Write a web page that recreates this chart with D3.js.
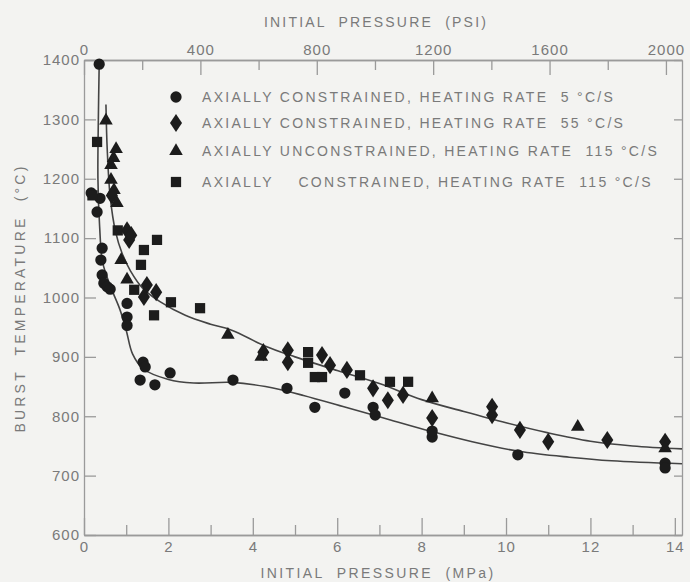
<!DOCTYPE html>
<html>
<head>
<meta charset="utf-8">
<script src="https://cdn.jsdelivr.net/npm/d3@7"></script>
<style>
    body { margin: 0; background: #f3f3f1; }
    svg { display: block; }
    text { font-family: "Liberation Sans", "DejaVu Sans", sans-serif; fill: #7a7a7a; white-space: pre; }
</style>
</head>
<body>
<div id="chart"></div>
<script>
// Axis ticks
var mpaMajor = [0, 2, 4, 6, 8, 10, 12, 14];
var mpaMinor = [1, 3, 5, 7, 9, 11, 13];
var psiMajor = [0, 400, 800, 1200, 1600, 2000];
var psiMinor = [200, 600, 1000, 1400, 1800];
var tempTicks = [600, 700, 800, 900, 1000, 1100, 1200, 1300, 1400];

// Series: [initial pressure (MPa), burst temperature (C)]
var constrained5 = [
    [0.36, 1393], [0.17, 1176], [0.38, 1167], [0.31, 1144], [0.43, 1083], [0.40, 1063],
    [0.43, 1038], [0.47, 1024], [0.55, 1018], [0.62, 1014], [1.02, 990], [1.02, 967],
    [1.02, 953], [1.40, 891], [1.45, 883], [2.04, 873], [1.33, 861], [1.68, 853],
    [3.53, 861], [4.81, 847], [5.47, 815], [6.18, 839], [6.85, 815], [6.90, 802],
    [8.25, 765], [8.25, 775], [10.28, 735], [13.77, 721], [13.77, 713]
];
var constrained55 = [
    [0.66, 1172], [1.02, 1113], [1.07, 1097], [1.12, 1105], [1.49, 1021], [1.42, 1001],
    [1.71, 1009], [4.25, 908], [4.83, 911], [4.83, 891], [5.64, 903], [5.83, 886],
    [6.23, 878], [6.85, 847], [7.20, 827], [7.56, 836], [8.25, 797], [9.67, 816],
    [9.67, 802], [10.33, 777], [11.00, 757], [12.40, 760], [13.77, 757]
];
var unconstrained115 = [
    [0.52, 1298], [0.76, 1250], [0.70, 1235], [0.64, 1223], [0.64, 1198], [0.71, 1181],
    [0.78, 1159], [0.88, 1063], [1.02, 1030], [3.41, 937], [4.20, 900], [8.25, 830],
    [11.70, 782], [13.77, 746]
];
var constrained115 = [
    [0.31, 1262], [0.20, 1172], [0.80, 1113], [1.73, 1097], [1.42, 1080], [1.35, 1055],
    [1.19, 1013], [2.06, 992], [2.75, 982], [1.66, 970], [5.31, 908], [5.31, 890],
    [5.64, 866], [5.47, 866], [6.54, 869], [7.25, 858], [7.68, 858]
];

// Fitted curves drawn through the data
var lowerCurve = [
    [0.36, 1393], [0.34, 1300], [0.33, 1200], [0.37, 1120], [0.44, 1060], [0.62, 1020],
    [0.85, 980], [1.00, 945], [1.15, 905], [1.40, 880], [2.00, 862], [2.60, 856],
    [3.50, 857], [4.30, 850], [5.20, 835], [6.20, 815], [7.20, 795], [8.20, 775],
    [9.20, 757], [10.30, 741], [11.50, 731], [12.50, 725], [14.17, 720]
];
var upperCurve = [
    [0.52, 1325], [0.55, 1250], [0.62, 1170], [0.75, 1110], [0.90, 1075], [1.10, 1045],
    [1.40, 1015], [1.80, 993], [2.40, 970], [3.00, 955], [3.50, 945], [4.30, 918],
    [5.00, 900], [6.00, 877], [7.00, 855], [8.00, 828], [9.00, 808], [10.00, 789],
    [11.00, 772], [12.00, 758], [13.00, 750], [14.17, 745]
];

var legendLabels = [
    "AXIALLY CONSTRAINED, HEATING RATE  5 °C/S",
    "AXIALLY CONSTRAINED, HEATING RATE  55 °C/S",
    "AXIALLY UNCONSTRAINED, HEATING RATE  115 °C/S",
    "AXIALLY    CONSTRAINED, HEATING RATE  115 °C/S"
];

var WIDTH = 690, HEIGHT = 582;
var LEFT = 84, RIGHT = 682, TOP = 60, BOTTOM = 535;
var INK = "#1c1c1c";
var AXIS_COLOR = "#9a9a9a";

var svg = d3.select("#chart").append("svg")
    .attr("width", WIDTH)
    .attr("height", HEIGHT);

svg.append("rect").attr("width", WIDTH).attr("height", HEIGHT).attr("fill", "#f3f3f1");

var x = d3.scaleLinear().domain([0, 14.17]).range([LEFT, RIGHT]);
var xPsi = d3.scaleLinear().domain([0, 14.17 / 0.00689476]).range([LEFT, RIGHT]);
var y = d3.scaleLinear().domain([600, 1400]).range([BOTTOM, TOP]);
var plain = d3.format("d");

function styleAxis(g) {
    g.selectAll("path, line").attr("stroke", AXIS_COLOR).attr("stroke-width", 1.3);
    g.selectAll("text")
        .attr("fill", "#7a7a7a")
        .style("font-size", "15px")
        .style("letter-spacing", "1px")
        .style("font-family", "'Liberation Sans', 'DejaVu Sans', sans-serif");
}

// Bottom axis (MPa), ticks pointing up into the plot
svg.append("g")
    .attr("transform", "translate(0," + BOTTOM + ")")
    .call(d3.axisBottom(x).tickValues(mpaMinor).tickSize(-10).tickSizeOuter(0).tickFormat(""))
    .call(styleAxis);
svg.append("g")
    .attr("transform", "translate(0," + BOTTOM + ")")
    .call(d3.axisBottom(x).tickValues(mpaMajor).tickSize(-17).tickSizeOuter(0).tickPadding(6).tickFormat(plain))
    .call(styleAxis);

// Top axis (psi), ticks pointing down
svg.append("g")
    .attr("transform", "translate(0," + TOP + ")")
    .call(d3.axisTop(xPsi).tickValues(psiMinor).tickSize(-10).tickSizeOuter(0).tickFormat(""))
    .call(styleAxis);
svg.append("g")
    .attr("transform", "translate(0," + TOP + ")")
    .call(d3.axisTop(xPsi).tickValues(psiMajor).tickSize(-15).tickSizeOuter(0).tickPadding(5).tickFormat(plain))
    .call(styleAxis);

// Left and right temperature axes
svg.append("g")
    .attr("transform", "translate(" + LEFT + ",0)")
    .call(d3.axisLeft(y).tickValues(tempTicks).tickSize(-12).tickSizeOuter(0).tickPadding(4).tickFormat(plain))
    .call(styleAxis);
svg.append("g")
    .attr("transform", "translate(" + RIGHT + ",0)")
    .call(d3.axisRight(y).tickValues(tempTicks).tickSize(-8).tickSizeOuter(0).tickFormat(""))
    .call(styleAxis);

// Axis titles
svg.append("text")
    .attr("x", 376).attr("y", 27)
    .attr("text-anchor", "middle")
    .style("font-size", "14px").style("letter-spacing", "2.2px")
    .text("INITIAL  PRESSURE  (PSI)");
svg.append("text")
    .attr("x", 378).attr("y", 578)
    .attr("text-anchor", "middle")
    .style("font-size", "14px").style("letter-spacing", "2.4px")
    .text("INITIAL  PRESSURE  (MPa)");
svg.append("text")
    .attr("transform", "translate(25,298) rotate(-90)")
    .attr("text-anchor", "middle")
    .style("font-size", "14px").style("letter-spacing", "3.2px")
    .text("BURST  TEMPERATURE  (°C)");

// Curves
var line = d3.line()
    .x(function(d) { return x(d[0]); })
    .y(function(d) { return y(d[1]); })
    .curve(d3.curveCatmullRom.alpha(0.5));

[lowerCurve, upperCurve].forEach(function(c) {
    svg.append("path")
        .datum(c)
        .attr("d", line)
        .attr("fill", "none")
        .attr("stroke", "#444")
        .attr("stroke-width", 1.6);
});

// Markers
var symbols = [
    d3.symbol().type(d3.symbolCircle).size(100),
    d3.symbol().type(d3.symbolDiamond).size(95),
    d3.symbol().type(d3.symbolTriangle).size(80),
    d3.symbol().type(d3.symbolSquare).size(105)
];
var series = [constrained5, constrained55, unconstrained115, constrained115];

series.forEach(function(s, i) {
    svg.append("g")
        .selectAll("path")
        .data(s)
        .enter().append("path")
            .attr("transform", function(d) { return "translate(" + x(d[0]) + "," + y(d[1]) + ")" + (i === 1 ? " scale(1.15,1)" : ""); })
            .attr("d", symbols[i])
            .attr("fill", INK);
});

// Legend
var legendY = [97, 123, 151, 182];
legendLabels.forEach(function(label, i) {
    svg.append("path")
        .attr("transform", "translate(176," + legendY[i] + ")" + (i === 1 ? " scale(1.15,1)" : ""))
        .attr("d", symbols[i])
        .attr("fill", INK);
    svg.append("text")
        .attr("x", 202).attr("y", legendY[i] + 5)
        .style("font-size", "14px").style("letter-spacing", "2.3px")
        .text(label);
});
</script>
</body>
</html>
